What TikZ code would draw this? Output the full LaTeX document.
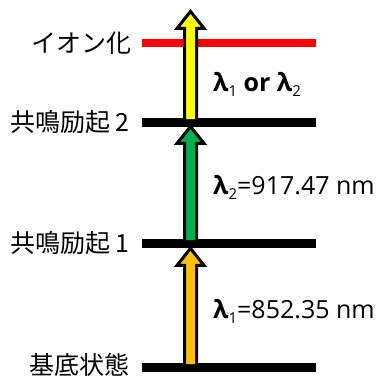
\documentclass[tikz,border=0pt]{standalone}
\usepackage{fontspec}
\setmainfont{Open Sans}
\newfontfamily\jp{Noto Sans CJK JP}
\usepackage{tikz}
\usetikzlibrary{calc}

\definecolor{ambar}{RGB}{255,192,0}
\definecolor{verdeex}{RGB}{0,176,80}
\definecolor{amarillo}{RGB}{255,255,0}
\newcommand{\subi}[1]{\raisebox{-5pt}{\mdseries\fontsize{15}{15}\selectfont #1}}

\begin{document}
\begin{tikzpicture}[x=1pt, y=1pt,
  nivel/.style={line width=9pt},
  flecha/.style={line width=3pt, line join=miter, draw=black},
  nombre/.style={anchor=east, inner sep=0pt, font=\jp\fontsize{25}{25}\selectfont},
  onda/.style={anchor=base west, inner sep=0pt, font=\fontsize{25}{25}\selectfont}
]
  \useasboundingbox (0,0) rectangle (382,376);
  % niveles
  \coordinate (g0) at (142,9);   \coordinate (g0r) at (316,9);
  \coordinate (e1) at (142,133); \coordinate (e1r) at (316,133);
  \coordinate (e2) at (142,254); \coordinate (e2r) at (316,254);
  \coordinate (io) at (142,333); \coordinate (ior) at (316,333);
  \draw[nivel] (g0) -- (g0r) (e1) -- (e1r) (e2) -- (e2r);
  \draw[nivel, line width=8pt, red] (io) -- (ior);
  \node[nombre] (n0) at (130,11)  {基底状態};
  \node[nombre] (n1) at (130,133) {共鳴励起\hspace{5pt}1};
  \node[nombre] (n2) at (130,254) {共鳴励起\hspace{5pt}2};
  \node[nombre] (n3) at (132,333) {イオン化};
  % flechas
  \coordinate (a0) at (190.5,12);  \coordinate (t1) at (190.5,127.6);
  \coordinate (a1) at (190.5,136); \coordinate (t2) at (190.5,249.6);
  \coordinate (a2) at (190.5,257); \coordinate (t3) at (190.5,364.6);
  \foreach \lo/\hi/\col in {a0/t1/ambar, a1/t2/verdeex, a2/t3/amarillo}{
    \draw[flecha, fill=\col] ($(\lo)+(-6,0)$) -- ($(\hi)+(-6,-17)$)
      -- ($(\hi)+(-13.5,-17)$) -- (\hi) -- ($(\hi)+(13.5,-17)$)
      -- ($(\hi)+(6,-17)$) -- ($(\lo)+(6,0)$);
  }
  \node[onda] (l1) at (213,58)  {{\bfseries λ}\subi{1}=852.35 nm};
  \node[onda] (l2) at (213,181.5) {{\bfseries λ}\subi{2}=917.47 nm};
  \node[onda] (l3) at (213,285) {\bfseries λ\subi{1} or λ\subi{2}};
\end{tikzpicture}
\end{document}
